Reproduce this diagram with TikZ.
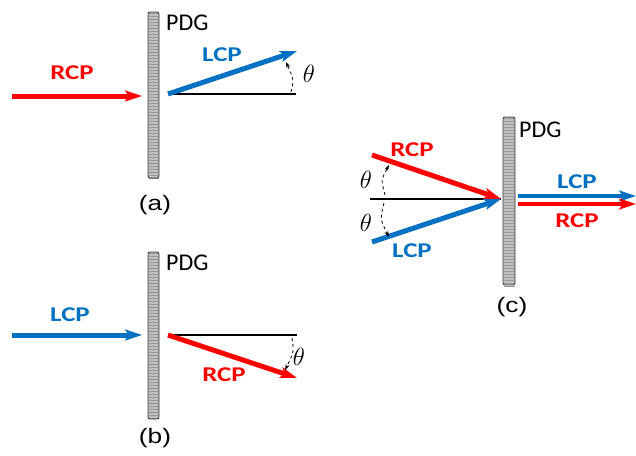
\documentclass[tikz,border=0pt]{standalone}
\usepackage{fontspec}
\setsansfont{Carlito}
\newfontfamily\beamfont[FakeStretch=1.28]{Carlito}
\newfontfamily\capfont[FakeStretch=1.25]{Liberation Sans}
\usetikzlibrary{arrows.meta}
\definecolor{rcpred}{RGB}{255,0,0}
\definecolor{lcpblue}{RGB}{0,112,192}
\tikzset{
  beam/.style={line width=5pt,-{Stealth[length=17pt,width=11pt,inset=4pt]}},
  rcp/.style={beam,draw=rcpred,color=rcpred},
  lcp/.style={beam,draw=lcpblue,color=lcpblue},
  axisline/.style={line width=1.6pt,black},
  anglearc/.style={dashed,line width=0.8pt,-{Stealth[length=6pt,width=4pt]}},
  beamlabel/.style={font=\beamfont\bfseries\fontsize{21}{21}\selectfont,inner sep=0pt},
  rcplabel/.style={beamlabel,text=rcpred},
  lcplabel/.style={beamlabel,text=lcpblue},
  pdglabel/.style={font=\sffamily\fontsize{24}{24}\selectfont,anchor=west,inner sep=0pt},
  caption/.style={font=\capfont\fontsize{21}{21}\selectfont,inner sep=0pt},
  thetalabel/.style={font=\fontsize{25}{25}\selectfont,inner sep=0pt},
}
\newcommand{\grating}[4]{%
  \fill[gray!50,rounded corners=2pt] (#1,#2) rectangle (#3,#4);
  \pgfmathtruncatemacro\ystartb{#2+3}%
  \foreach \yy in {#2,\ystartb,...,#4} {\draw[gray!80,line width=0.7pt] (#1+0.5,\yy+1.5) -- (#3-0.5,\yy+1.5);}
  \draw[gray!40!black,line width=0.8pt,rounded corners=2pt] (#1,#2) rectangle (#3,#4);
}
\begin{document}
\begin{tikzpicture}[x=1pt,y=-1pt]
\useasboundingbox (0,0) rectangle (636,455);
% ---------- panel (a)
\grating{148}{12}{159}{178}
\node[pdglabel] (pdga) at (166,22.5) {PDG};
\coordinate (ra0) at (12,96);
\coordinate (ra1) at (142,96);
\draw[rcp] (ra0) -- (ra1);
\node[rcplabel] (rcpa) at (72,73) {RCP};
\coordinate (oa) at (168,94);
\coordinate (ha) at (296,94);
\coordinate (la) at (297,51);
\draw[axisline] (oa) -- (ha);
\draw[lcp] (oa) -- (la);
\node[lcplabel] (lcpa) at (222,55) {LCP};
\coordinate (aa0) at (291,92);
\coordinate (aa1) at (286,62);
\draw[anglearc] (aa0) .. controls (294,80) .. (aa1);
\node[thetalabel] (tha) at (309,74) {$\theta$};
\node[caption] (capa) at (155,205) {(a)};
% ---------- panel (b)
\grating{148}{252}{159}{419}
\node[pdglabel] (pdgb) at (166,262.5) {PDG};
\coordinate (lb0) at (12,335);
\coordinate (lb1) at (142,335);
\draw[lcp] (lb0) -- (lb1);
\node[lcplabel] (lcpb) at (70,315) {LCP};
\coordinate (ob) at (168,335);
\coordinate (hb) at (297,335);
\coordinate (rb) at (297,378);
\draw[axisline] (ob) -- (hb);
\draw[rcp] (ob) -- (rb);
\node[rcplabel] (rcpb) at (224,375) {RCP};
\coordinate (ab0) at (292,338);
\coordinate (ab1) at (285,370);
\draw[anglearc] (ab0) .. controls (294,352) .. (ab1);
\node[thetalabel] (thb) at (299,357) {$\theta$};
\node[caption] (capb) at (155,438) {(b)};
% ---------- panel (c)
\grating{503}{117}{515}{285}
\node[pdglabel] (pdgc) at (519,130) {PDG};
\coordinate (oc) at (501,199);
\coordinate (hc) at (370,199);
\coordinate (rc0) at (372,155);
\coordinate (lc0) at (372,242);
\draw[axisline] (hc) -- (oc);
\draw[rcp] (rc0) -- (oc);
\draw[lcp] (lc0) -- (oc);
\node[rcplabel] (rcpc) at (412,150) {RCP};
\node[lcplabel] (lcpc) at (412,251) {LCP};
\coordinate (ac0) at (385,195);
\coordinate (ac1) at (389,165);
\draw[anglearc] (ac0) .. controls (381,180) .. (ac1);
\coordinate (ac2) at (384,203);
\coordinate (ac3) at (389,237);
\draw[anglearc] (ac2) .. controls (380,219) .. (ac3);
\node[thetalabel] (thc1) at (366,180) {$\theta$};
\node[thetalabel] (thc2) at (366,223) {$\theta$};
\coordinate (lo0) at (518,196);
\coordinate (lo1) at (636,196);
\coordinate (ro0) at (518,204);
\coordinate (ro1) at (636,204);
\draw[lcp,line width=4.5pt] (lo0) -- (lo1);
\draw[rcp,line width=4.5pt] (ro0) -- (ro1);
\node[lcplabel] (lcpo) at (577,182) {LCP};
\node[rcplabel] (rcpo) at (577,221) {RCP};
\node[caption] (capc) at (512,307) {(c)};
\end{tikzpicture}
\end{document}
